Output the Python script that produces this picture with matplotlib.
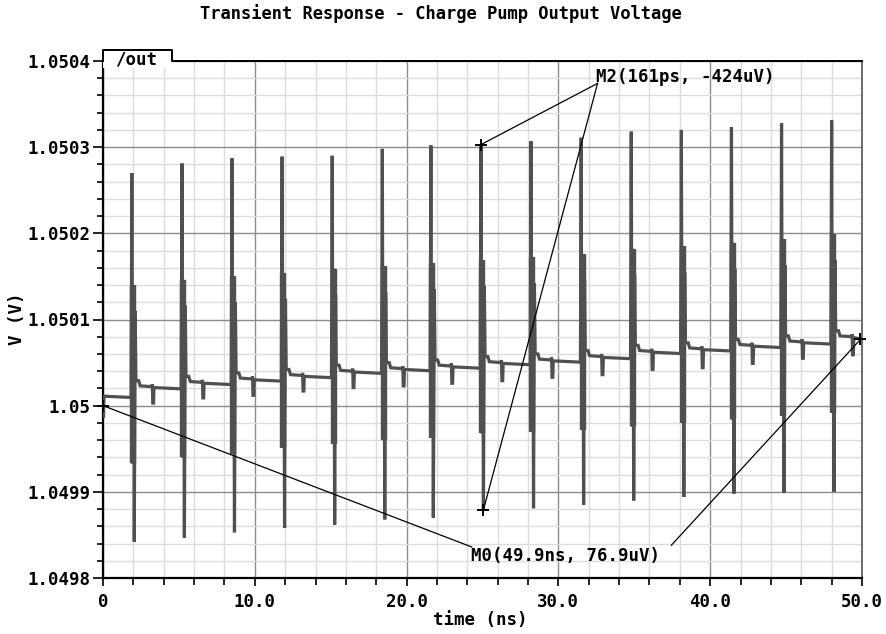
import matplotlib
matplotlib.use("Agg")
import matplotlib.pyplot as plt
from matplotlib.ticker import MultipleLocator, FixedLocator, FixedFormatter
from matplotlib.patches import Rectangle
from matplotlib.lines import Line2D

# ---------------- text ----------------
title = "Transient Response - Charge Pump Output Voltage"
xlabel = "time (ns)"
ylabel = "V (V)"
signal_name = "/out"
m2_label = "M2(161ps, -424uV)"
m0_label = "M0(49.9ns, 76.9uV)"

x_ticks = [0, 10, 20, 30, 40, 50]
x_tick_labels = ["0", "10.0", "20.0", "30.0", "40.0", "50.0"]
y_ticks = [1.0498, 1.0499, 1.05, 1.0501, 1.0502, 1.0503, 1.0504]
y_tick_labels = ["1.0498", "1.0499", "1.05", "1.0501", "1.0502", "1.0503", "1.0504"]

# ---------------- data ----------------
start_t = [0.0, 0.03, 0.07]
start_v = [1.05, 1.049986, 1.050011]         # trace from t = 0 up to the first spike
spike_t = [1.9, 5.2, 8.5, 11.8, 15.1, 18.4, 21.6, 24.9,
           28.2, 31.5, 34.8, 38.1, 41.4, 44.7, 48.0]
spike_hi = [1.050270, 1.050281, 1.050287, 1.050289, 1.050290, 1.050298, 1.050302, 1.050303,
            1.050307, 1.050311, 1.050318, 1.050320, 1.050323, 1.050328, 1.050331]
spike_lo = [1.049842, 1.049847, 1.049853, 1.049858, 1.049862, 1.049868, 1.049870, 1.049879,
            1.049881, 1.049885, 1.049890, 1.049894, 1.049898, 1.049899, 1.049900]
ring_lo = [1.049933, 1.049940, 1.049944, 1.049951, 1.049956, 1.049960, 1.049963, 1.049968,
           1.049970, 1.049972, 1.049976, 1.049980, 1.049984, 1.049988, 1.049992]
ring_hi = [1.050140, 1.050146, 1.050150, 1.050154, 1.050159, 1.050162, 1.050165, 1.050169,
           1.050172, 1.050176, 1.050182, 1.050185, 1.050189, 1.050193, 1.050199]
level_after = [1.050021, 1.050026, 1.050030, 1.050034, 1.050039, 1.050042, 1.050045, 1.050049,
               1.050052, 1.050056, 1.050062, 1.050065, 1.050069, 1.050073, 1.050079]
dip_v = [1.050003, 1.050009, 1.050012, 1.050017, 1.050021, 1.050023, 1.050026, 1.050029,
         1.050033, 1.050036, 1.050042, 1.050044, 1.050049, 1.050055, 1.050059]
t_end = 50.0
v_end = 1.050077

# marker positions
m0_pts_t = [0.0, 49.9]
m0_pts_v = [1.05, 1.0500769]
m2_anchor = (32.58, 1.050374)
m0_anchor_left = (24.29, 1.049836)
m0_anchor_right = (37.44, 1.049838)

# ---------------- build the trace from the read values ----------------
tt = list(start_t)
vv = list(start_v)
prev = start_v[-1]
for k in range(len(spike_t)):
    t = spike_t[k]
    lev = level_after[k]
    seg = [
        (t - 0.05, prev - 0.0000015),
        (t, spike_hi[k]),
        (t + 0.05, ring_lo[k]),
        (t + 0.11, ring_hi[k]),
        (t + 0.161, spike_lo[k]),
        (t + 0.22, ring_hi[k] - 0.00003),
        (t + 0.27, lev + 0.000008),
        (t + 0.45, lev + 0.000008),
        (t + 0.55, lev + 0.000002),
        (t + 1.33, lev + 0.000001),
        (t + 1.35, lev + 0.000004),
        (t + 1.38, dip_v[k]),
        (t + 1.43, dip_v[k]),
        (t + 1.46, lev),
    ]
    for a, b in seg:
        tt.append(a)
        vv.append(b)
    prev = lev
tt.append(t_end)
vv.append(v_end)

# ---------------- figure ----------------
W, H = 887, 634
fig = plt.figure(figsize=(W / 100, H / 100), dpi=100)
L, R, T, B = 103, 862, 61, 578
ax = fig.add_axes([L / W, 1 - B / H, (R - L) / W, (B - T) / H])

font = dict(family="DejaVu Sans Mono", weight="bold")
fs = 12.5
trace_c = "#505050"

ax.plot(tt, vv, color=trace_c, lw=2.3, solid_joinstyle="miter", zorder=3)
# dense ringing part of every spike
ax.vlines([t + 0.09 for t in spike_t], ring_lo, ring_hi, color=trace_c, lw=4.6, zorder=3)

ax.set_xlim(0, 50)
ax.set_ylim(1.0498, 1.0504)

ax.xaxis.set_major_locator(FixedLocator(x_ticks))
ax.xaxis.set_major_formatter(FixedFormatter(x_tick_labels))
ax.yaxis.set_major_locator(FixedLocator(y_ticks))
ax.yaxis.set_major_formatter(FixedFormatter(y_tick_labels))
ax.xaxis.set_minor_locator(MultipleLocator(2))
ax.yaxis.set_minor_locator(MultipleLocator(0.00002))

ax.grid(which="minor", color="#dcdcdc", lw=1.0, zorder=0)
ax.grid(which="major", color="#8c8c8c", lw=1.0, zorder=1)
ax.set_axisbelow(True)

ax.tick_params(axis="x", which="major", direction="out", length=6, width=1.2, pad=5)
ax.tick_params(axis="x", which="minor", direction="out", length=5, width=1.2)
ax.tick_params(axis="y", which="major", direction="out", length=7, width=1.2, pad=2)
ax.tick_params(axis="y", which="minor", direction="out", length=4, width=1.2)
for lab in ax.get_xticklabels() + ax.get_yticklabels():
    lab.set_fontfamily("DejaVu Sans Mono")
    lab.set_fontweight("bold")
    lab.set_fontsize(fs)

ax.spines["left"].set_linewidth(1.6)
ax.spines["bottom"].set_linewidth(1.6)
ax.spines["right"].set_color("#555555")
ax.spines["right"].set_linewidth(1.2)
ax.spines["top"].set_visible(False)

# top edge with the signal tab
tab_r = 172
fig.add_artist(Rectangle((L / W, 1 - 68 / H), (tab_r - L) / W, 18 / H,
                         facecolor="white", edgecolor="none", zorder=5))
xs = [L / W, L / W, tab_r / W, tab_r / W, R / W]
ys = [1 - T / H, 1 - 50 / H, 1 - 50 / H, 1 - T / H, 1 - T / H]
fig.add_artist(Line2D(xs, ys, color="black", lw=1.4, zorder=6))
fig.text(115 / W, 1 - 59 / H, signal_name, ha="left", va="center", fontsize=fs, zorder=7, **font)

# markers
ax.plot([spike_t[7], spike_t[7] + 0.161], [spike_hi[7], spike_lo[7]], ls="none",
        marker="+", ms=9, mew=1.4, color="black", zorder=6)
ax.plot([m2_anchor[0], spike_t[7]], [m2_anchor[1], spike_hi[7]], color="black", lw=0.9, zorder=6)
ax.plot([m2_anchor[0], spike_t[7] + 0.161], [m2_anchor[1], spike_lo[7]], color="black", lw=0.9, zorder=6)
ax.plot([m0_pts_t[0], m0_anchor_left[0]], [m0_pts_v[0], m0_anchor_left[1]], color="black", lw=0.9, zorder=6)
ax.plot([m0_anchor_right[0], m0_pts_t[1]], [m0_anchor_right[1], m0_pts_v[1]], color="black", lw=0.9,
        zorder=6, clip_on=False)
ax.plot(m0_pts_t, m0_pts_v, ls="none", marker="+", ms=8, mew=1.4, color="black", zorder=6, clip_on=False)

ax.text(32.49, 1.050382, m2_label, ha="left", va="center", fontsize=fs, zorder=7, **font)
ax.text(24.27, 1.049826, m0_label, ha="left", va="center", fontsize=fs, zorder=7, **font)

fig.text(441 / W, 1 - 14 / H, title, ha="center", va="center", fontsize=12.3, **font)
fig.text(480 / W, 1 - 620 / H, xlabel, ha="center", va="center", fontsize=fs, **font)
fig.text(17 / W, 1 - 319 / H, ylabel, ha="center", va="center", rotation=90, fontsize=fs, **font)

fig.savefig("out.png", dpi=100)
